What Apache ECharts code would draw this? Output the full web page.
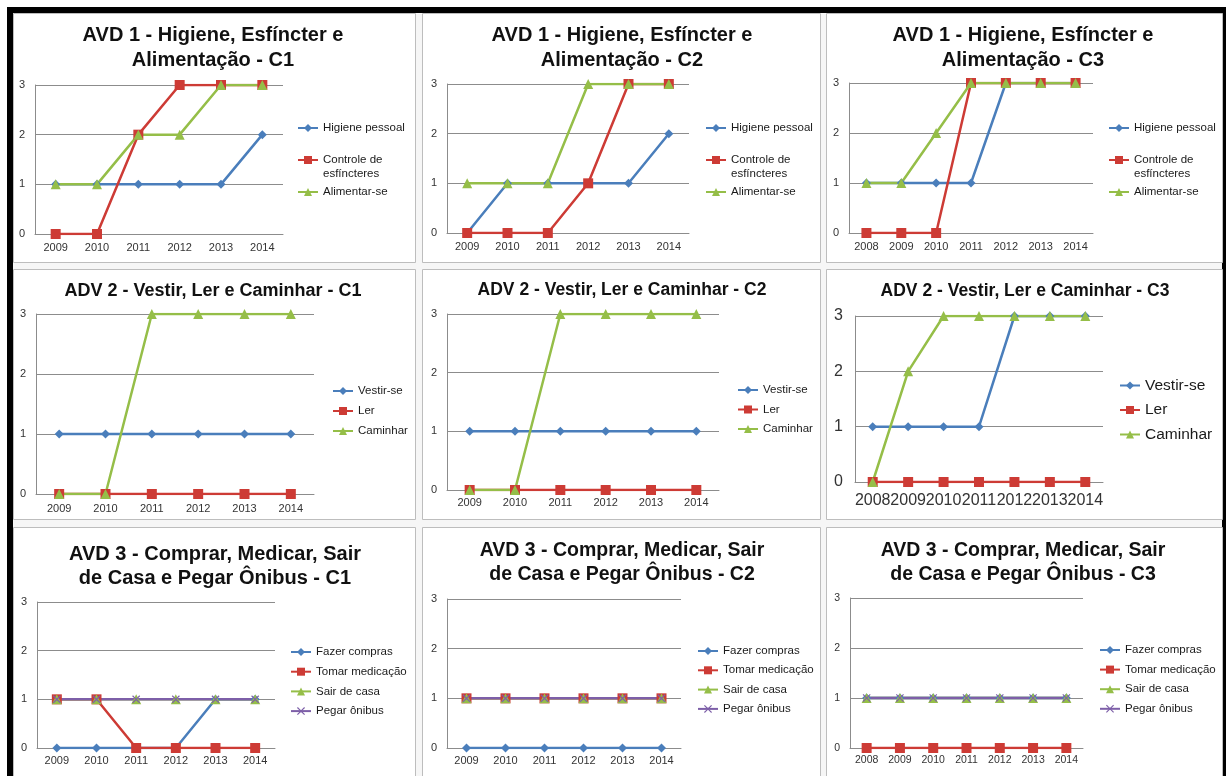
<!DOCTYPE html>
<html>
<head>
<meta charset="utf-8">
<title>AVD</title>
<script src="https://cdn.jsdelivr.net/npm/echarts@6/dist/echarts.min.js"></script>
<style>
html, body { margin: 0; padding: 0; background: #fff; }
#chart-show { width: 1226px; height: 776px; }
</style>
</head>
<body>
<div id="chart-show"></div>
<script>
// anos (eixo x)
var anos6 = ['2009', '2010', '2011', '2012', '2013', '2014'];
var anos7 = ['2008', '2009', '2010', '2011', '2012', '2013', '2014'];

// AVD 1 - Higiene, Esfincter e Alimentacao
var avd1c1Higiene   = [1, 1, 1, 1, 1, 2];
var avd1c1Controle  = [0, 0, 2, 3, 3, 3];
var avd1c1Alimentar = [1, 1, 2, 2, 3, 3];
var avd1c2Higiene   = [0, 1, 1, 1, 1, 2];
var avd1c2Controle  = [0, 0, 0, 1, 3, 3];
var avd1c2Alimentar = [1, 1, 1, 3, 3, 3];
var avd1c3Higiene   = [1, 1, 1, 1, 3, 3, 3];
var avd1c3Controle  = [0, 0, 0, 3, 3, 3, 3];
var avd1c3Alimentar = [1, 1, 2, 3, 3, 3, 3];

// ADV 2 - Vestir, Ler e Caminhar
var adv2c1Vestir   = [1, 1, 1, 1, 1, 1];
var adv2c1Ler      = [0, 0, 0, 0, 0, 0];
var adv2c1Caminhar = [0, 0, 3, 3, 3, 3];
var adv2c2Vestir   = [1, 1, 1, 1, 1, 1];
var adv2c2Ler      = [0, 0, 0, 0, 0, 0];
var adv2c2Caminhar = [0, 0, 3, 3, 3, 3];
var adv2c3Vestir   = [1, 1, 1, 1, 3, 3, 3];
var adv2c3Ler      = [0, 0, 0, 0, 0, 0, 0];
var adv2c3Caminhar = [0, 2, 3, 3, 3, 3, 3];

// AVD 3 - Comprar, Medicar, Sair de Casa e Pegar Onibus
var avd3c1Compras  = [0, 0, 0, 0, 1, 1];
var avd3c1Medicar  = [1, 1, 0, 0, 0, 0];
var avd3c1Sair     = [1, 1, 1, 1, 1, 1];
var avd3c1Onibus   = [1, 1, 1, 1, 1, 1];
var avd3c2Compras  = [0, 0, 0, 0, 0, 0];
var avd3c2Medicar  = [1, 1, 1, 1, 1, 1];
var avd3c2Sair     = [1, 1, 1, 1, 1, 1];
var avd3c2Onibus   = [1, 1, 1, 1, 1, 1];
var avd3c3Compras  = [1, 1, 1, 1, 1, 1, 1];
var avd3c3Medicar  = [0, 0, 0, 0, 0, 0, 0];
var avd3c3Sair     = [1, 1, 1, 1, 1, 1, 1];
var avd3c3Onibus   = [1, 1, 1, 1, 1, 1, 1];

var fonte = '"Liberation Sans", Arial, sans-serif';

var tipos = {
    azul:     { cor: '#4a7ebb', simbolo: 'diamond', tam: 9 },
    vermelho: { cor: '#cd3b35', simbolo: 'rect', tam: 10 },
    verde:    { cor: '#95be48', simbolo: 'triangle', tam: 10 },
    roxo:     { cor: '#7d5fa8', simbolo: 'path://M1,0 L5,4 L9,0 L10,1 L6,5 L10,9 L9,10 L5,6 L1,10 L0,9 L4,5 L0,1 Z', tam: 8 }
};

var t1 = 'AVD 1 - Higiene, Esfíncter e\nAlimentação - C';
var t3 = 'AVD 3 - Comprar, Medicar, Sair\nde Casa e Pegar Ônibus - C';

// caixa, titulo, grade, legenda de cada painel
var paineis = [
    { box: [13, 13, 402, 249], tit: t1 + '1', tx: 213, ty: 23, tf: 20, tl: 25,
      grid: [35, 85, 248, 149], anos: anos6, af: 11, xm: 8, ym: 10,
      leg: [297, 121, 4], lf: 11.5, lh: 14,
      series: [['Higiene pessoal', avd1c1Higiene, 'azul'], ['Controle de esfíncteres', avd1c1Controle, 'vermelho'], ['Alimentar-se', avd1c1Alimentar, 'verde']] },
    { box: [422, 13, 398, 249], tit: t1 + '2', tx: 622, ty: 23, tf: 20, tl: 25,
      grid: [447, 84, 242, 149], anos: anos6, af: 11, xm: 8, ym: 10,
      leg: [705, 121, 4], lf: 11.5, lh: 14,
      series: [['Higiene pessoal', avd1c2Higiene, 'azul'], ['Controle de esfíncteres', avd1c2Controle, 'vermelho'], ['Alimentar-se', avd1c2Alimentar, 'verde']] },
    { box: [826, 13, 396, 249], tit: t1 + '3', tx: 1023, ty: 23, tf: 20, tl: 25,
      grid: [849, 83, 244, 150], anos: anos7, af: 11, xm: 8, ym: 10,
      leg: [1108, 121, 4], lf: 11.5, lh: 14,
      series: [['Higiene pessoal', avd1c3Higiene, 'azul'], ['Controle de esfíncteres', avd1c3Controle, 'vermelho'], ['Alimentar-se', avd1c3Alimentar, 'verde']] },

    { box: [13, 269, 402, 250], tit: 'ADV 2 - Vestir, Ler e Caminhar - C1', tx: 213, ty: 280, tf: 18, tl: 22,
      grid: [36, 314, 278, 180], anos: anos6, af: 11, xm: 9, ym: 10,
      leg: [332, 384, 6], lf: 11.5, lh: 14,
      series: [['Vestir-se', adv2c1Vestir, 'azul'], ['Ler', adv2c1Ler, 'vermelho'], ['Caminhar', adv2c1Caminhar, 'verde']] },
    { box: [422, 269, 398, 250], tit: 'ADV 2 - Vestir, Ler e Caminhar - C2', tx: 622, ty: 279, tf: 17.5, tl: 22,
      grid: [447, 314, 272, 176], anos: anos6, af: 11, xm: 7, ym: 10,
      leg: [737, 383, 5.5], lf: 11.5, lh: 14,
      series: [['Vestir-se', adv2c2Vestir, 'azul'], ['Ler', adv2c2Ler, 'vermelho'], ['Caminhar', adv2c2Caminhar, 'verde']] },
    { box: [826, 269, 396, 250], tit: 'ADV 2 - Vestir, Ler e Caminhar - C3', tx: 1025, ty: 280, tf: 17.5, tl: 22,
      grid: [855, 316, 248, 166], anos: anos7, af: 16, xm: 11, ym: 12,
      leg: [1119, 376, 5.5], lf: 15.5, lh: 19,
      series: [['Vestir-se', adv2c3Vestir, 'azul'], ['Ler', adv2c3Ler, 'vermelho'], ['Caminhar', adv2c3Caminhar, 'verde']] },

    { box: [13, 527, 402, 249], tit: t3 + '1', tx: 215, ty: 542, tf: 20, tl: 24,
      grid: [37, 602, 238, 146], anos: anos6, af: 11, xm: 7, ym: 10,
      leg: [290, 645, 5.7], lf: 11.5, lh: 14,
      series: [['Fazer compras', avd3c1Compras, 'azul'], ['Tomar medicação', avd3c1Medicar, 'vermelho'], ['Sair de casa', avd3c1Sair, 'verde'], ['Pegar ônibus', avd3c1Onibus, 'roxo']] },
    { box: [422, 527, 398, 249], tit: t3 + '2', tx: 622, ty: 539, tf: 19.5, tl: 24,
      grid: [447, 599, 234, 149], anos: anos6, af: 11, xm: 7, ym: 10,
      leg: [697, 644, 5.3], lf: 11.5, lh: 14,
      series: [['Fazer compras', avd3c2Compras, 'azul'], ['Tomar medicação', avd3c2Medicar, 'vermelho'], ['Sair de casa', avd3c2Sair, 'verde'], ['Pegar ônibus', avd3c2Onibus, 'roxo']] },
    { box: [826, 527, 396, 249], tit: t3 + '3', tx: 1023, ty: 539, tf: 19.5, tl: 24,
      grid: [850, 598, 233, 150], anos: anos7, af: 10.5, xm: 7, ym: 10,
      leg: [1099, 643, 5.6], lf: 11.5, lh: 14,
      series: [['Fazer compras', avd3c3Compras, 'azul'], ['Tomar medicação', avd3c3Medicar, 'vermelho'], ['Sair de casa', avd3c3Sair, 'verde'], ['Pegar ônibus', avd3c3Onibus, 'roxo']] }
];

window.onload = function () {
    var myChart = echarts.init(document.getElementById('chart-show'));

    var option = {
        backgroundColor: '#f6f6f6',
        animation: false,
        title: [], legend: [], grid: [], xAxis: [], yAxis: [], series: [],
        graphic: [
            // moldura preta
            { type: 'rect', shape: { x: 0, y: 0, width: 1226, height: 7 }, style: { fill: '#fff' }, silent: true, z: -20 },
            { type: 'rect', shape: { x: 0, y: 0, width: 7, height: 776 }, style: { fill: '#fff' }, silent: true, z: -20 },
            { type: 'rect', shape: { x: 7, y: 7, width: 1219, height: 6 }, style: { fill: '#000' }, silent: true, z: -20 },
            { type: 'rect', shape: { x: 7, y: 7, width: 6, height: 769 }, style: { fill: '#000' }, silent: true, z: -20 },
            { type: 'rect', shape: { x: 1222, y: 7, width: 4, height: 769 }, style: { fill: '#000' }, silent: true, z: -20 }
        ]
    };

    paineis.forEach(function (p, i) {
        option.graphic.push({
            type: 'rect', silent: true, z: -10,
            shape: { x: p.box[0] + 0.5, y: p.box[1] + 0.5, width: p.box[2], height: p.box[3] },
            style: { fill: '#fff', stroke: '#bdbdbd', lineWidth: 1 }
        });
        option.title.push({
            text: p.tit, left: p.tx, top: p.ty, textAlign: 'center', padding: 0,
            textStyle: { fontFamily: fonte, fontWeight: 'bold', fontSize: p.tf, lineHeight: p.tl, color: '#111' }
        });
        option.grid.push({ left: p.grid[0], top: p.grid[1], width: p.grid[2], height: p.grid[3] });
        option.xAxis.push({
            type: 'category', gridIndex: i, data: p.anos, boundaryGap: true,
            axisLine: { lineStyle: { color: '#8c8c8c', width: 1 } },
            axisTick: { show: false },
            splitLine: { show: false },
            axisLabel: { interval: 0, margin: p.xm, fontSize: p.af, fontFamily: fonte, color: '#333' }
        });
        option.yAxis.push({
            type: 'value', gridIndex: i, min: 0, max: 3, interval: 1,
            axisLine: { show: true, lineStyle: { color: '#8c8c8c', width: 1 } },
            axisTick: { show: false },
            splitLine: { show: true, lineStyle: { color: '#8c8c8c', width: 1 } },
            axisLabel: { margin: p.ym, fontSize: p.af, fontFamily: fonte, color: '#333' }
        });
        var nomes = [];
        p.series.forEach(function (s) {
            var t = tipos[s[2]];
            nomes.push(s[0]);
            option.series.push({
                type: 'line', name: s[0], xAxisIndex: i, yAxisIndex: i, data: s[1],
                symbol: t.simbolo, symbolSize: t.tam, showAllSymbol: true,
                itemStyle: { color: t.cor },
                lineStyle: { color: t.cor, width: 2.5 }
            });
        });
        option.legend.push({
            data: nomes, orient: 'vertical', left: p.leg[0], top: p.leg[1], itemGap: p.leg[2],
            itemWidth: 20, itemHeight: 10, padding: 0, selectedMode: false,
            textStyle: { fontSize: p.lf, lineHeight: p.lh, fontFamily: fonte, color: '#1a1a1a' },
            formatter: function (name) {
                // linha vazia em cima para o simbolo ficar na altura da primeira linha
                return name === 'Controle de esfíncteres' ? ' \nControle de\nesfíncteres' : name;
            }
        });
    });

    myChart.setOption(option);
    window.onresize = function () {
        myChart.resize();
    };
};
</script>
</body>
</html>
